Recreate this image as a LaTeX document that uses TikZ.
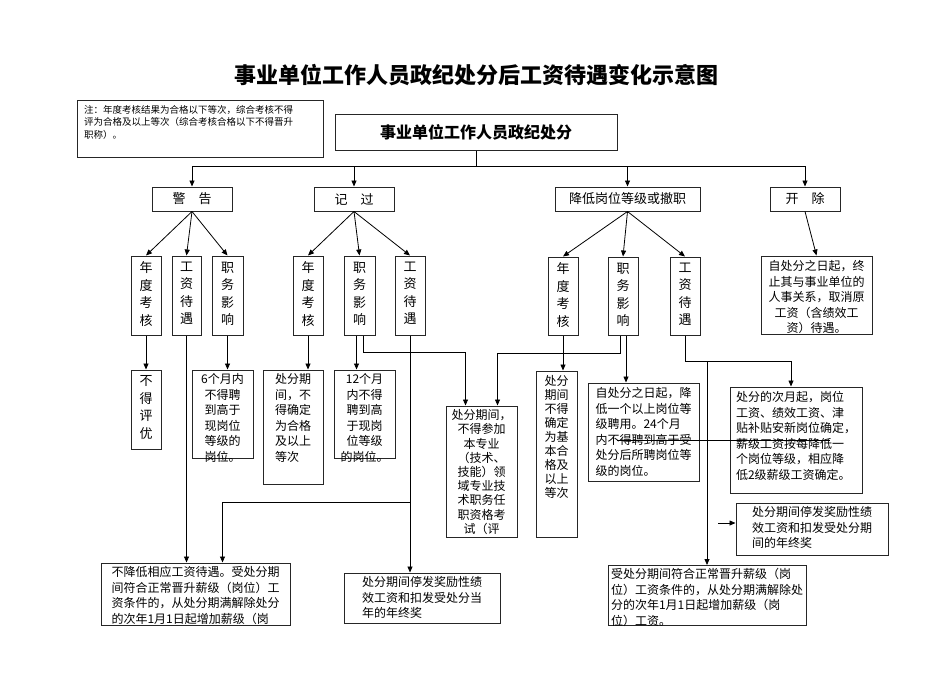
\documentclass[tikz,border=0pt]{standalone}
\usepackage{fontspec}
\setmainfont{Noto Sans CJK SC}
\usetikzlibrary{arrows.meta}
\newcommand\bx[6][]{\node[box,#1,minimum width={#4-#2},minimum height={#5-#3}] (#6) at ({(#2+#4)/2},{(#3+#5)/2}) {};}
\begin{document}
\begin{tikzpicture}[x=1pt,y=-1pt,
  box/.style={draw=black!85,line width=1pt,inner sep=0pt},
  arr/.style={line width=0.8pt,-{Triangle[length=6pt,width=5pt]}},
  ln/.style={line width=0.8pt},
  vt/.style={anchor=north,align=center,font=\fontsize{13}{17.5}\selectfont,inner sep=0pt},
  pt/.style={anchor=north,align=left,font=\fontsize{12}{15.5}\selectfont,inner sep=0pt},
  pc/.style={anchor=north,align=center,font=\fontsize{12}{15.5}\selectfont,inner sep=0pt}]
\useasboundingbox (0,0) rectangle (950,672);
\node[font=\bfseries\fontsize{22}{26}\selectfont] (title) at (476,75) {事业单位工作人员政纪处分后工资待遇变化示意图};
% note
\bx{77}{100}{323}{157}{note}
\node[anchor=north west,align=left,inner sep=0pt,font=\fontsize{9.5}{12.5}\selectfont] (notet) at (84,105) {注：年度考核结果为合格以下等次，综合考核不得\\评为合格及以上等次（综合考核合格以下不得晋升\\职称）。};
% main
\bx{335}{114}{617}{150}{main}
\node[font=\bfseries\fontsize{16}{19}\selectfont] (maint) at (main) {事业单位工作人员政纪处分};
% level 1
\bx{152}{187}{232}{211}{jg} \node[font=\fontsize{13}{15}\selectfont] (jgt) at (jg) {警\quad 告};
\bx{314}{187}{394}{211}{jgo} \node[font=\fontsize{13}{15}\selectfont] (jgot) at (jgo) {记\quad 过};
\bx{555}{187}{700}{211}{jd} \node[font=\fontsize{13}{15}\selectfont] (jdt) at (jd) {降低岗位等级或撤职};
\bx{770}{187}{840}{211}{kc} \node[font=\fontsize{13}{15}\selectfont] (kct) at (kc) {开\quad 除};
\coordinate (bus) at (476,166);
\draw[ln] (main.south) -- (bus);
\draw[ln] (jg.north|-bus) -- (kc.north|-bus);
\foreach \n in {jg,jgo,jd,kc} \draw[arr] (\n.north|-bus) -- (\n.north);
% level 2
\bx{131}{256}{161}{335}{a1} \node[vt] at ([yshift=-6pt]a1.north) {年\\度\\考\\核};
\bx{172}{256}{201}{335}{a2} \node[vt] at ([yshift=-6pt]a2.north) {工\\资\\待\\遇};
\bx{212}{256}{243}{335}{a3} \node[vt] at ([yshift=-6pt]a3.north) {职\\务\\影\\响};
\bx{293}{256}{323}{335}{b1} \node[vt] at ([yshift=-6pt]b1.north) {年\\度\\考\\核};
\bx{344}{256}{375}{335}{b2} \node[vt] at ([yshift=-6pt]b2.north) {职\\务\\影\\响};
\bx{395}{256}{425}{335}{b3} \node[vt] at ([yshift=-6pt]b3.north) {工\\资\\待\\遇};
\bx{548}{257}{578}{335}{c1} \node[vt] at ([yshift=-6pt]c1.north) {年\\度\\考\\核};
\bx{608}{257}{638}{335}{c2} \node[vt] at ([yshift=-6pt]c2.north) {职\\务\\影\\响};
\bx{670}{257}{700}{335}{c3} \node[vt] at ([yshift=-6pt]c3.north) {工\\资\\待\\遇};
\bx{761}{256}{872}{334}{d1} \node[pc] at ([yshift=-5pt]d1.north) {自处分之日起，终\\止其与事业单位的\\人事关系，取消原\\工资（含绩效工\\资）待遇。};
\foreach \c in {a1,a2,a3} \draw[arr] (jg.south) -- (\c.north);
\foreach \c in {b1,b2,b3} \draw[arr] (jgo.south) -- (\c.north);
\foreach \c in {c1,c2,c3} \draw[arr] (jd.south) -- (\c.north);
\draw[arr] (kc.south) -- (d1.north);
% level 3
\bx{131}{370}{161}{449}{a1r} \node[vt] at ([yshift=-6pt]a1r.north) {不\\得\\评\\优};
\bx{192}{370}{253}{458}{a3r} \node[pc] at ([yshift=-4pt]a3r.north) {6个月内\\不得聘\\到高于\\现岗位\\等级的\\岗位。};
\bx{263}{370}{323}{484}{b1r} \node[pt] at ([yshift=-4pt]b1r.north) {处分期\\间，不\\得确定\\为合格\\及以上\\等次};
\bx{334}{370}{395}{458}{b2r} \node[pc] at ([yshift=-4pt]b2r.north) {12个月\\内不得\\聘到高\\于现岗\\位等级\\的岗位。};
\bx{446}{406}{517}{537}{m1} \node[pc,font=\fontsize{12}{14.2}\selectfont] at ([yshift=-4pt]m1.north) {处分期间，\\不得参加\\本专业\\（技术、\\技能）领\\域专业技\\术职务任\\职资格考\\试（评};
\bx{536}{371}{577}{537}{c1r} \node[pc,font=\fontsize{12}{14}\selectfont] at ([yshift=-5pt]c1r.north) {处分\\期间\\不得\\确定\\为基\\本合\\格及\\以上\\等次};
\bx{588}{383}{699}{481}{c2r} \node[pt] at ([yshift=-5pt]c2r.north) {自处分之日起，降\\低一个以上岗位等\\级聘用。24个月\\内不得聘到高于受\\处分后所聘岗位等\\级的岗位。};
\bx{730}{387}{862}{493}{c3r} \node[pt] at ([yshift=-5pt]c3r.north) {处分的次月起，岗位\\工资、绩效工资、津\\贴补贴安新岗位确定，\\薪级工资按每降低一\\个岗位等级，相应降\\低2级薪级工资确定。};
\bx{736}{503}{888}{555}{c3s} \node[pt] at ([yshift=-4pt]c3s.north) {处分期间停发奖励性绩\\效工资和扣发受处分期\\间的年终奖};
\bx{101}{563}{290}{625}{bl} \node[pt] at ([yshift=-4pt]bl.north) {不降低相应工资待遇。受处分期\\间符合正常晋升薪级（岗位）工\\资条件的，从处分期满解除处分\\的次年1月1日起增加薪级（岗};
\bx{344}{573}{500}{623}{bm} \node[pt] at ([yshift=-4pt]bm.north) {处分期间停发奖励性绩\\效工资和扣发受处分当\\年的年终奖};
\bx{608}{565}{806}{625}{br} \node[pt] at ([yshift=-4pt]br.north) {受处分期间符合正常晋升薪级（岗\\位）工资条件的，从处分期满解除处\\分的次年1月1日起增加薪级（岗\\位）工资。};
% connectors
\draw[arr] (a1.south) -- (a1r.north);
\draw[arr] (a3.south) -- (a3.south|-a3r.north);
\draw[arr] (a2.south) -- (a2.south|-bl.north);
\draw[arr] (b1.south) -- (b1.south|-b1r.north);
\draw[arr] ([xshift=-3pt]b2.south) -- ([xshift=-3pt]b2.south|-b2r.north);
\draw[arr] ([xshift=4pt]b2.south) -- ++(0,17) -| ([xshift=-16pt]m1.north);
\draw[arr] (b3.south) -- (b3.south|-bm.north);
\draw[arr] (b3.south|-0,502) -| (a3r.south|-bl.north);
\draw[arr] (c1.south) -- (c1.south|-c1r.north);
\draw[arr] ([xshift=-3pt]c2.south) -- ++(0,18) -| ([xshift=16pt]m1.north);
\draw[arr] ([xshift=3pt]c2.south) -- ([xshift=3pt]c2.south|-c2r.north);
\draw[arr] (c3.south) -- ++(0,26) -| ([xshift=-5pt]c3r.north);
\draw[arr] (707,361) -- (707,565);
\coordinate (ar) at (718,523);
\draw[arr] (ar) -- (ar-|c3s.west);
\coordinate (s1) at (617,440); \coordinate (s2) at (830,440);
\draw[line width=0.7pt] (s1) -- (s2);
\end{tikzpicture}
\end{document}
